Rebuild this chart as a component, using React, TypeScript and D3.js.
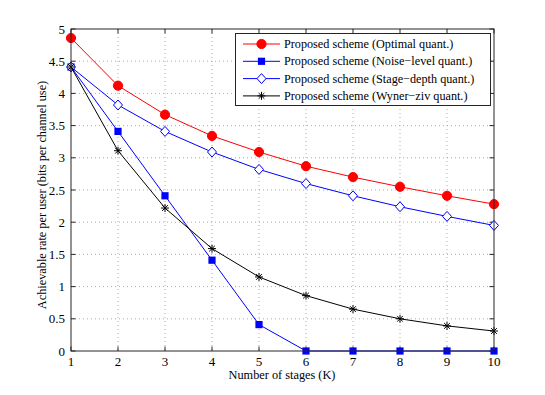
import React from "react";
import * as d3 from "d3";

const stages = [1, 2, 3, 4, 5, 6, 7, 8, 9, 10];
const optimal = [4.86, 4.12, 3.67, 3.34, 3.09, 2.87, 2.7, 2.55, 2.41, 2.28];
const noiseLevel = [4.41, 3.41, 2.41, 1.41, 0.41, 0, 0, 0, 0, 0];
const stageDepth = [4.41, 3.82, 3.41, 3.09, 2.82, 2.6, 2.41, 2.24, 2.09, 1.95];
const wynerZiv = [4.41, 3.11, 2.22, 1.59, 1.15, 0.86, 0.65, 0.5, 0.39, 0.31];
const xTicks = [1, 2, 3, 4, 5, 6, 7, 8, 9, 10];
const yTicks = [0, 0.5, 1, 1.5, 2, 2.5, 3, 3.5, 4, 4.5, 5];
const legendLabels = [
  "Proposed scheme (Optimal quant.)",
  "Proposed scheme (Noise\u2212level quant.)",
  "Proposed scheme (Stage\u2212depth quant.)",
  "Proposed scheme (Wyner\u2212ziv quant.)",
];

const W = 545, H = 395;
const L = 71, R = 494, T = 29, B = 351;
const FAM = '"Liberation Serif", "Times New Roman", Times, serif';
const tickStyle: React.CSSProperties = { fontFamily: FAM, fontSize: "13px" };
const labelStyle: React.CSSProperties = { fontFamily: FAM, fontSize: "12.3px" };
const legendStyle: React.CSSProperties = { fontFamily: FAM, fontSize: "12.2px" };

type Kind = "circle" | "square" | "diamond" | "star";

function Marker({ kind, x, y, color }: { kind: Kind; x: number; y: number; color: string }) {
  if (kind === "circle") return <circle cx={x} cy={y} r={4.6} fill={color} stroke={color} />;
  if (kind === "square") return <rect x={x - 3.6} y={y - 3.6} width={7.2} height={7.2} fill={color} />;
  if (kind === "diamond")
    return (
      <path
        d={`M${x},${y - 5}L${x + 4.5},${y}L${x},${y + 5}L${x - 4.5},${y}Z`}
        fill="white"
        stroke={color}
        strokeWidth={1}
      />
    );
  const s = 4;
  const d = s * 0.72;
  return (
    <path
      d={`M${x - s},${y}H${x + s}M${x},${y - s}V${y + s}M${x - d},${y - d}L${x + d},${y + d}M${x - d},${y + d}L${x + d},${y - d}`}
      stroke={color}
      strokeWidth={1}
      fill="none"
    />
  );
}

export default function App() {
  const x = d3.scaleLinear().domain([1, 10]).range([L, R]);
  const y = d3.scaleLinear().domain([0, 5]).range([B, T]);
  const line = d3
    .line<number>()
    .x((_, i) => x(stages[i]))
    .y((v) => y(v));

  const series: { data: number[]; color: string; kind: Kind }[] = [
    { data: optimal, color: "#ff0000", kind: "circle" },
    { data: noiseLevel, color: "#0000ff", kind: "square" },
    { data: stageDepth, color: "#0000ff", kind: "diamond" },
    { data: wynerZiv, color: "#000000", kind: "star" },
  ];

  const tick = 4.5;
  const axisColor = "#262626";

  return (
    <svg width={W} height={H} style={{ position: "absolute", left: 0, top: 0, background: "white" }}>
      <rect x={0} y={0} width={W} height={H} fill="white" />
      {xTicks.slice(1, -1).map((t) => (
        <line key={"gx" + t} x1={x(t)} x2={x(t)} y1={T} y2={B} stroke="#999" strokeWidth={0.8} strokeDasharray="1,3" />
      ))}
      {yTicks.slice(1, -1).map((t) => (
        <line key={"gy" + t} x1={L} x2={R} y1={y(t)} y2={y(t)} stroke="#999" strokeWidth={0.8} strokeDasharray="1,3" />
      ))}
      {xTicks.map((t) => (
        <g key={"tx" + t}>
          <line x1={x(t)} x2={x(t)} y1={B} y2={B - tick} stroke={axisColor} />
          <line x1={x(t)} x2={x(t)} y1={T} y2={T + tick} stroke={axisColor} />
          <text x={x(t)} y={B + 14.5} textAnchor="middle" style={tickStyle} fill="#000">
            {t}
          </text>
        </g>
      ))}
      {yTicks.map((t) => (
        <g key={"ty" + t}>
          <line x1={L} x2={L + tick} y1={y(t)} y2={y(t)} stroke={axisColor} />
          <line x1={R} x2={R - tick} y1={y(t)} y2={y(t)} stroke={axisColor} />
          <text x={L - 6} y={y(t) + 4.5} textAnchor="end" style={tickStyle} fill="#000">
            {t}
          </text>
        </g>
      ))}
      {series.map((s, si) => (
        <g key={"s" + si}>
          <path d={line(s.data) || ""} fill="none" stroke={s.color} strokeWidth={1} />
          {s.data.map((v, i) => (
            <Marker key={i} kind={s.kind} x={x(stages[i])} y={y(v)} color={s.color} />
          ))}
        </g>
      ))}
      <rect x={L} y={T} width={R - L} height={B - T} fill="none" stroke={axisColor} strokeWidth={1} />
      <rect x={235.5} y={33.5} width={255} height={72} fill="white" stroke={axisColor} strokeWidth={1} />
      {legendLabels.map((lab, i) => {
        const ly = 44 + i * 17.3;
        const s = series[i];
        return (
          <g key={"l" + i}>
            <line x1={243} x2={280} y1={ly} y2={ly} stroke={s.color} strokeWidth={1} />
            <Marker kind={s.kind} x={261.5} y={ly} color={s.color} />
            <text x={284} y={ly + 4} style={legendStyle} fill="#000">
              {lab}
            </text>
          </g>
        );
      })}
      <text x={282} y={379} textAnchor="middle" style={labelStyle} fill="#000">
        Number of stages (K)
      </text>
      <text
        transform={`translate(45.5,195) rotate(-90)`}
        textAnchor="middle"
        style={labelStyle}
        fill="#000"
      >
        Achievable rate per user (bits per channel use)
      </text>
    </svg>
  );
}
